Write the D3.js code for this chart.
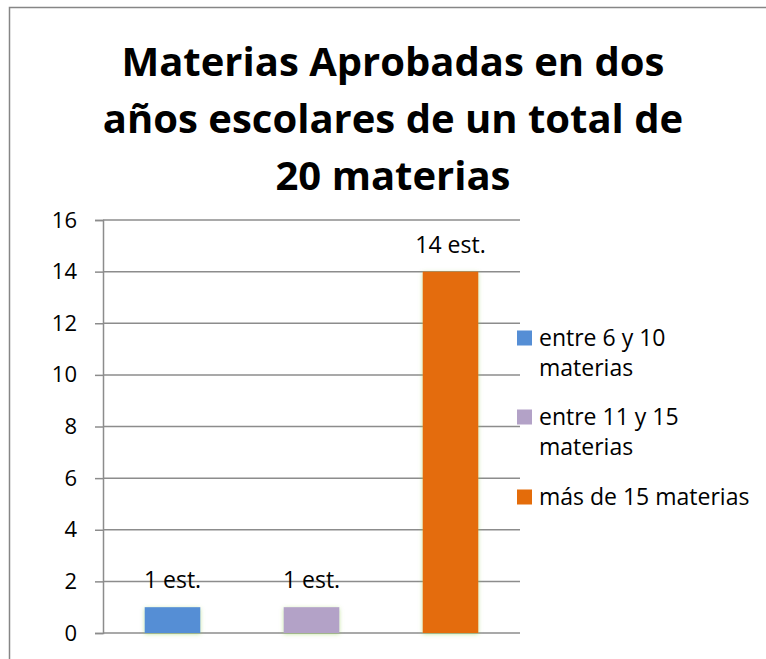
<!DOCTYPE html>
<html>
<head>
<meta charset="utf-8">
<title>Materias Aprobadas</title>
<script src="https://d3js.org/d3.v7.min.js"></script>
<style>
  body { margin: 0; background: #fff; }
  text { font-family: "Open Sans", Lato, "Liberation Sans", sans-serif; fill: #000; }
</style>
</head>
<body>
<script>
// datos
var categorias = ["entre 6 y 10 materias", "entre 11 y 15 materias", "más de 15 materias"];
var estudiantes = [1, 1, 14];
var etiquetas = ["1 est.", "1 est.", "14 est."];
var lineasLeyenda = [["entre 6 y 10", "materias"], ["entre 11 y 15", "materias"], ["más de 15 materias"]];
var colores = ["#558ED5", "#B3A2C7", "#E46C0A"];
var ticksY = [0, 2, 4, 6, 8, 10, 12, 14, 16];
var titulo = ["Materias Aprobadas en dos", "años escolares de un total de", "20 materias"];

var width = 766, height = 659;
var fuente = "'Open Sans', Lato, 'Liberation Sans', sans-serif";

var svg = d3.select("body").append("svg")
  .attr("width", width)
  .attr("height", height);

// sombra verde de las barras
var defs = svg.append("defs");
var f = defs.append("filter").attr("id", "glow")
  .attr("x", "-20%").attr("y", "-20%").attr("width", "140%").attr("height", "140%");
f.append("feFlood").attr("flood-color", "#92D050").attr("flood-opacity", 0.55).attr("result", "c");
f.append("feComposite").attr("in", "c").attr("in2", "SourceAlpha").attr("operator", "in").attr("result", "s");
f.append("feGaussianBlur").attr("in", "s").attr("stdDeviation", 2).attr("result", "b");
f.append("feOffset").attr("in", "b").attr("dy", 1).attr("result", "o");
var m = f.append("feMerge");
m.append("feMergeNode").attr("in", "o");
m.append("feMergeNode").attr("in", "SourceGraphic");

// borde
svg.append("rect")
  .attr("x", 9.5).attr("y", 7.5)
  .attr("width", 770).attr("height", 680)
  .attr("fill", "none")
  .attr("stroke", "#868686")
  .attr("stroke-width", 1.5);

// titulo
svg.append("g").selectAll("text").data(titulo).enter().append("text")
  .attr("x", 393)
  .attr("y", function(d, i) { return 76 + i * 57; })
  .attr("text-anchor", "middle")
  .style("font-size", "40px")
  .style("font-weight", "bold")
  .text(function(d) { return d; });

var x = d3.scaleBand().domain(categorias).range([103, 520]).paddingInner(0.6).paddingOuter(0.3);
var y = d3.scaleLinear().domain([0, 16]).range([633, 220]);

// rejilla
svg.append("g").selectAll("line").data(ticksY).enter().append("line")
  .attr("x1", 103).attr("x2", 520)
  .attr("y1", function(d) { return y(d); })
  .attr("y2", function(d) { return y(d); })
  .attr("stroke", "#8c8c8c")
  .attr("stroke-width", 1.5);

// eje y
var ejeY = svg.append("g")
  .attr("transform", "translate(103,0)")
  .call(d3.axisLeft(y).tickValues(ticksY).tickSize(8).tickPadding(18));
ejeY.select(".domain").attr("stroke", "#8c8c8c").attr("stroke-width", 1.5);
ejeY.selectAll(".tick line").attr("stroke", "#8c8c8c").attr("stroke-width", 1.5);
ejeY.selectAll(".tick text")
  .attr("fill", "#000")
  .style("font-size", "22px")
  .style("font-family", fuente);

// barras
svg.append("g").selectAll("rect").data(estudiantes).enter().append("rect")
  .attr("x", function(d, i) { return x(categorias[i]); })
  .attr("y", function(d) { return y(d); })
  .attr("width", x.bandwidth())
  .attr("height", function(d) { return y(0) - y(d); })
  .attr("fill", function(d, i) { return colores[i]; })
  .attr("filter", "url(#glow)");

// etiquetas de datos
svg.append("g").selectAll("text").data(estudiantes).enter().append("text")
  .attr("x", function(d, i) { return x(categorias[i]) + x.bandwidth() / 2; })
  .attr("y", function(d) { return y(d) - 19; })
  .attr("text-anchor", "middle")
  .style("font-size", "23px")
  .text(function(d, i) { return etiquetas[i]; });

// leyenda
var leyY = [338, 417, 497];
var ley = svg.append("g").selectAll("g").data(categorias).enter().append("g")
  .attr("transform", function(d, i) { return "translate(517," + leyY[i] + ")"; });
ley.append("rect")
  .attr("x", 0).attr("y", -7.5)
  .attr("width", 15).attr("height", 15)
  .attr("fill", function(d, i) { return colores[i]; });
ley.append("text")
  .style("font-size", "23px")
  .selectAll("tspan").data(function(d, i) { return lineasLeyenda[i]; }).enter().append("tspan")
  .attr("x", 22)
  .attr("y", function(d, j) { return 8 + j * 30; })
  .text(function(d) { return d; });
</script>
</body>
</html>
